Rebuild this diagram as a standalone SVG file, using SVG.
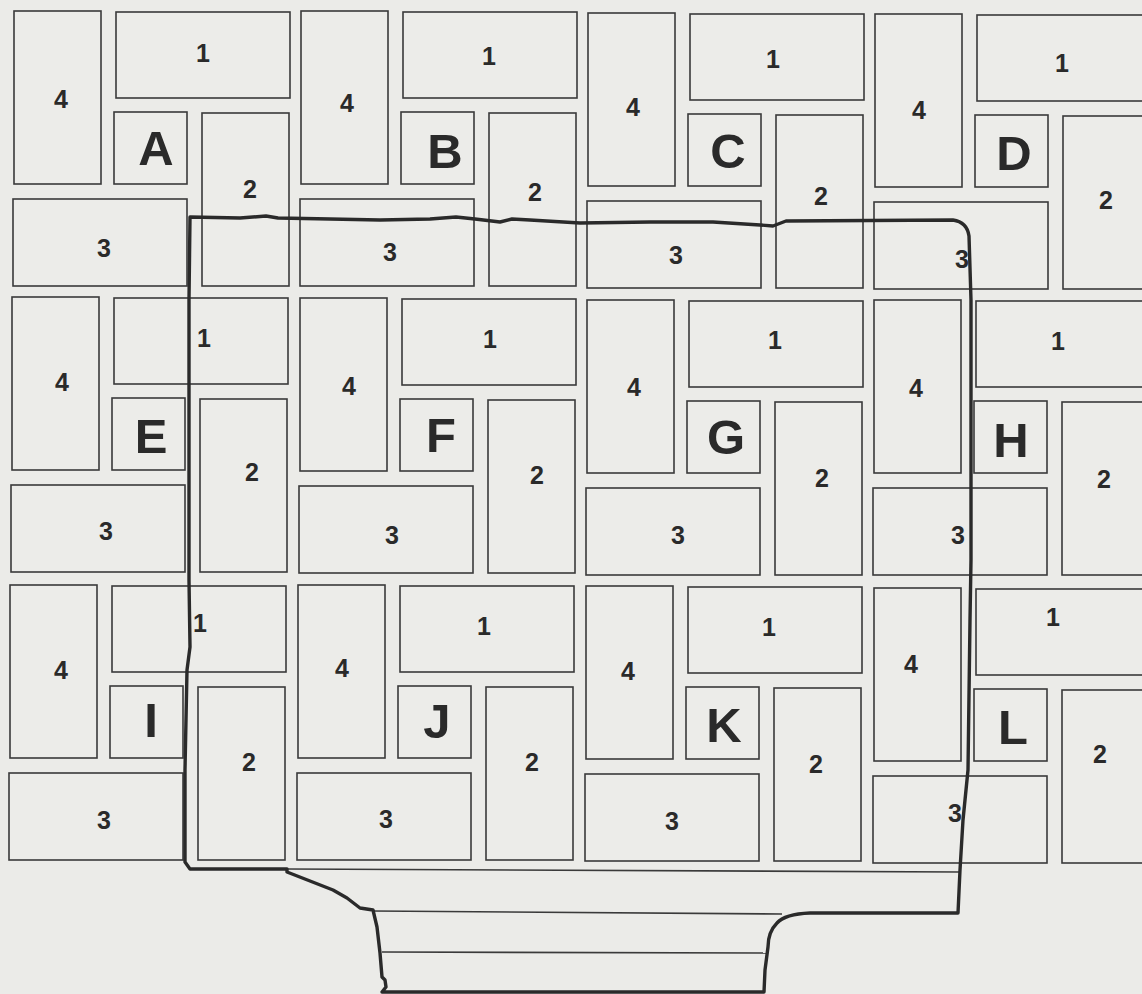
<svg xmlns="http://www.w3.org/2000/svg" xmlns:xlink="http://www.w3.org/1999/xlink" width="1142" height="994" viewBox="0 0 1142 994">
<style>
.r{fill:#ecece9;stroke:#3a3a3a;stroke-width:1.6}
.d{font-family:"Liberation Sans",Arial,sans-serif;font-weight:bold;font-size:25px;fill:#2a2a2a;text-anchor:middle}
.l{font-family:"Liberation Sans",Arial,sans-serif;font-weight:bold;font-size:49px;fill:#2a2a2a;text-anchor:middle}
.thin{fill:none;stroke:#3a3a3a;stroke-width:1.6}
.outline{fill:none;stroke:#2a2a2a;stroke-width:3.4;stroke-linejoin:round;stroke-linecap:round}
</style>
<defs>
<g id="tpl">
<rect class="r" x="0" y="0" width="87" height="173"/>
<rect class="r" x="102" y="1" width="174" height="86"/>
<rect class="r" x="100" y="101" width="73" height="72"/>
<rect class="r" x="188" y="102" width="87" height="173"/>
<rect class="r" x="-1" y="188" width="174" height="87"/>
</g>
</defs>
<rect x="0" y="0" width="1142" height="994" fill="#ebebe8"/>

<g id="block-A"><use xlink:href="#tpl" x="14" y="11"/>
<text class="d" x="61" y="108">4</text><text class="d" x="203" y="62">1</text><text class="l" x="156" y="165">A</text><text class="d" x="250" y="198">2</text><text class="d" x="104" y="257">3</text></g>
<g id="block-B"><use xlink:href="#tpl" x="301" y="11"/>
<text class="d" x="347" y="112">4</text><text class="d" x="489" y="65">1</text><text class="l" x="445" y="168">B</text><text class="d" x="535" y="201">2</text><text class="d" x="390" y="261">3</text></g>
<g id="block-C"><use xlink:href="#tpl" x="588" y="13"/>
<text class="d" x="633" y="116">4</text><text class="d" x="773" y="68">1</text><text class="l" x="728" y="168">C</text><text class="d" x="821" y="205">2</text><text class="d" x="676" y="264">3</text></g>
<g id="block-D"><use xlink:href="#tpl" x="875" y="14"/>
<text class="d" x="919" y="119">4</text><text class="d" x="1062" y="72">1</text><text class="l" x="1014" y="170">D</text><text class="d" x="1106" y="209">2</text><text class="d" x="962" y="268">3</text></g>

<g id="block-E"><use xlink:href="#tpl" x="12" y="297"/>
<text class="d" x="62" y="391">4</text><text class="d" x="204" y="347">1</text><text class="l" x="151" y="453">E</text><text class="d" x="252" y="481">2</text><text class="d" x="106" y="540">3</text></g>
<g id="block-F"><use xlink:href="#tpl" x="300" y="298"/>
<text class="d" x="349" y="395">4</text><text class="d" x="490" y="348">1</text><text class="l" x="441" y="452">F</text><text class="d" x="537" y="484">2</text><text class="d" x="392" y="544">3</text></g>
<g id="block-G"><use xlink:href="#tpl" x="587" y="300"/>
<text class="d" x="634" y="396">4</text><text class="d" x="775" y="349">1</text><text class="l" x="726" y="454">G</text><text class="d" x="822" y="487">2</text><text class="d" x="678" y="544">3</text></g>
<g id="block-H"><use xlink:href="#tpl" x="874" y="300"/>
<text class="d" x="916" y="397">4</text><text class="d" x="1058" y="350">1</text><text class="l" x="1011" y="457">H</text><text class="d" x="1104" y="488">2</text><text class="d" x="958" y="544">3</text></g>

<g id="block-I"><use xlink:href="#tpl" x="10" y="585"/>
<text class="d" x="61" y="679">4</text><text class="d" x="200" y="632">1</text><text class="l" x="151" y="737">I</text><text class="d" x="249" y="771">2</text><text class="d" x="104" y="829">3</text></g>
<g id="block-J"><use xlink:href="#tpl" x="298" y="585"/>
<text class="d" x="342" y="677">4</text><text class="d" x="484" y="635">1</text><text class="l" x="437" y="738">J</text><text class="d" x="532" y="771">2</text><text class="d" x="386" y="828">3</text></g>
<g id="block-K"><use xlink:href="#tpl" x="586" y="586"/>
<text class="d" x="628" y="680">4</text><text class="d" x="769" y="636">1</text><text class="l" x="724" y="742">K</text><text class="d" x="816" y="773">2</text><text class="d" x="672" y="830">3</text></g>
<g id="block-L"><use xlink:href="#tpl" x="874" y="588"/>
<text class="d" x="911" y="673">4</text><text class="d" x="1053" y="626">1</text><text class="l" x="1013" y="744">L</text><text class="d" x="1100" y="763">2</text><text class="d" x="955" y="822">3</text></g>

<g id="connectors">
<path class="thin" d="M287,869 L960,872"/>
<path class="thin" d="M373,911 L782,914"/>
<path class="thin" d="M382,952 L766,953"/>
<path class="outline" d="M190,217 L240,218 L266,216 L278,218 L330,219 L380,220 L430,219 L456,217 L475,219 L500,222 L512,219 L530,220 L580,223 L650,222 L713,222 L760,225 L773,226 L786,221 L953,220 Q967,222 969,236 L971,300 L971,560 L970,620 L968,770 L963,820 L960,870 L958,913 L810,913 Q785,914 777,923 Q768,932 768,947 L765,970 L764,992 L382,992 L386,987 L385,980 L382,977 L380,953 L377,927 L373,910 L360,908 L347,898 L333,890 L287,872 L287,869 L190,869 L185,862 L185,770 L187,670 L190,647 L189,580 L189,300 Z"/>
</g>
</svg>
